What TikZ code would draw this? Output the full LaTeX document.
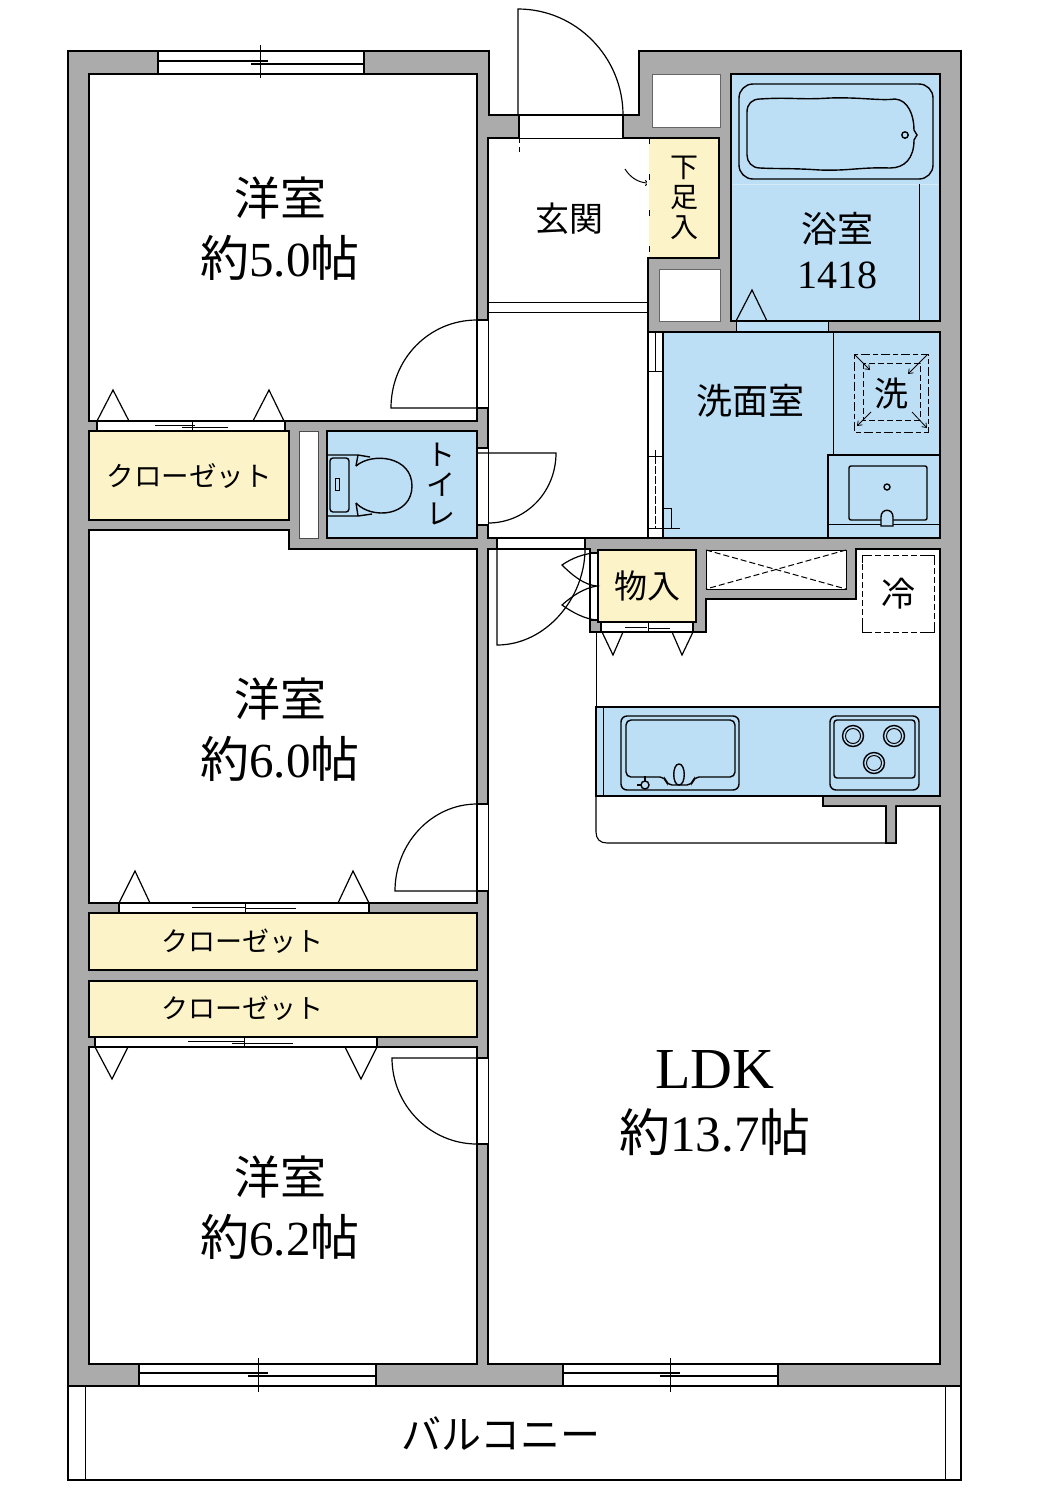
\documentclass[tikz,border=0pt]{standalone}
\usepackage{fontspec}
\setmainfont{Liberation Serif}
\newfontfamily\cjk{Noto Sans CJK JP}
\definecolor{wallgray}{HTML}{ABABAB}
\definecolor{wetblue}{HTML}{BDDFF6}
\definecolor{storeyellow}{HTML}{FDF3C8}
\tikzset{
  wall/.style={fill=wallgray,draw=black,line width=1.5pt},
  whiteroom/.style={fill=white,draw=black,line width=1.5pt},
  blueroom/.style={fill=wetblue,draw=black,line width=1.5pt},
  yellowroom/.style={fill=storeyellow,draw=black,line width=1.5pt},
  opening/.style={fill=white,draw=black,line width=1.2pt},
  thin line/.style={draw=black,line width=1pt},
  fixture/.style={draw=black,line width=1.4pt},
  dashline/.style={draw=black,line width=1pt,dash pattern=on 6pt off 3pt},
  doorleaf/.style={draw=black,line width=1.2pt},
  sz/.style={font=\fontsize{#1}{#1}\selectfont\cjk,inner sep=0pt},
  lat/.style={font=\fontsize{#1}{#1}\selectfont,inner sep=0pt},
  smallarrow/.style={draw=black,line width=0.8pt,-{Straight Barb[length=4pt,width=6pt]}},
}
\usetikzlibrary{arrows.meta}
\begin{document}
\begin{tikzpicture}[x=1pt,y=-1pt]
\useasboundingbox (0,0) rectangle (1054,1492);
% outer walls
\path[wall] (68,51) -- (489,51) -- (489,115) -- (639,115) -- (639,51) -- (961,51) -- (961,1386) -- (68,1386) -- cycle;
% balcony
\draw[line width=1.5pt] (68,1386) -- (68,1480) -- (961,1480) -- (961,1386);
\draw[thin line] (85,1386) -- (85,1480) (945,1386) -- (945,1480);
% bedrooms
\path[whiteroom] (89,74) rectangle (477,421);
\path[whiteroom] (89,530) -- (289,530) -- (289,549) -- (477,549) -- (477,903) -- (89,903) -- cycle;
\path[whiteroom] (89,1047) rectangle (477,1364);
% closets
\path[yellowroom] (89,431) rectangle (289,520);
\path[yellowroom] (89,913) rectangle (477,970);
\path[yellowroom] (89,981) rectangle (477,1037);
% closet openings
\path[opening] (97,421) rectangle (285,431);
\path[opening] (119,903) rectangle (369,913);
\path[opening] (95,1037) rectangle (377,1047);
\foreach \a/\b/\c in {97/113/129,253/269/284} \draw[doorleaf] (\a,421) -- (\b,390) -- (\c,421);
\foreach \a/\b/\c in {119/135/150,338/353/369} \draw[doorleaf] (\a,903) -- (\b,871) -- (\c,903);
\foreach \a/\b/\c in {95/112/128,345/361/377} \draw[doorleaf] (\a,1047) -- (\b,1079) -- (\c,1047);
\draw[thin line] (155,425) -- (195,425) (182,427) -- (228,427) (192,421) -- (192,431);
\draw[thin line] (192,907) -- (245,907) (245,908) -- (296,908) (245,903) -- (245,913);
\draw[thin line] (188,1041) -- (245,1041) (232,1043) -- (293,1043) (244,1037) -- (244,1047);
% toilet, shaft
\path[whiteroom,draw=black!70,line width=1pt] (299,431) rectangle (318,538);
\path[blueroom] (327,431) rectangle (477,538);
\draw[fixture,rounded corners=3pt] (330,458) rectangle (349,512);
\draw[fixture] (327,455) -- (358,455) -- (370,457) (327,516) -- (358,516) -- (372,514);
\draw[thin line] (335,478) rectangle (339,490);
\draw[fixture] (356,466) -- (358,455) (356,503) -- (358,516);
\draw[fixture] (356,466) .. controls (372,452) and (412,456) .. (412,486) .. controls (412,516) and (372,520) .. (356,503);
% corridor and entrance
\path[whiteroom] (488,138) rectangle (648,538);
\draw[thin line] (488,302) -- (648,302) (488,312) -- (648,312);
\path[opening,draw=none] (519,115) rectangle (622,138);
\draw[line width=1.5pt] (519,115) -- (622,115);
\draw[line width=2pt] (519,115) -- (519,138) (623,115) -- (623,138);
\draw[doorleaf] (518,115) -- (518,9) .. controls (576,9) and (623,57) .. (623,115);
\draw[line width=0.8pt,dash pattern=on 5pt off 4pt] (519,138) -- (519,154);
\draw[thin line,-{Straight Barb[length=4pt,width=5pt]}] (625,169) .. controls (630,177) and (638,183) .. (650,183);
% shoe closet and shafts
\path[fill=storeyellow] (649,138) rectangle (719,258);
\draw[line width=1.5pt] (648,138) -- (719,138) -- (719,258) -- (648,258);
\path[fill=white] (647.2,139) rectangle (648.8,257);
\draw[line width=0.8pt,dash pattern=on 6pt off 30pt] (649,138) -- (649,258);
\path[whiteroom,draw=black!60,line width=1pt] (652,74) rectangle (720,127);
\path[whiteroom,draw=black!60,line width=1pt] (659,269) rectangle (720,321);
% bath
\path[blueroom] (731,74) rectangle (940,321);
\draw[draw=wetblue!65!white,line width=0.8pt] (732,184) -- (939,184);
\draw[thin line] (919,184) -- (919,321);
\draw[fixture,rounded corners=14pt] (739,84) rectangle (933,179);
\draw[fixture] (760,99) .. controls (790,97) and (800,100) .. (830,98) .. controls (860,97) and (880,101) .. (895,99) .. controls (908,100) and (914,115) .. (914,130) -- (917,135) -- (914,140) .. controls (914,158) and (905,168) .. (890,168) .. controls (860,167) and (850,171) .. (820,170) .. controls (790,168) and (780,169) .. (760,168) .. controls (752,168) and (747,162) .. (747,155) -- (747,112) .. controls (747,104) and (752,99) .. (760,99) -- cycle;
\draw[fixture] (905,135) circle (3.2);
\path[fill=wetblue,draw=black,line width=1pt] (736,321) rectangle (828,332);
\draw[doorleaf] (736,321) -- (752,290) -- (767,321);
% washroom
\path[opening] (648,332) rectangle (663,538);
\draw[thin line] (655,332) -- (655,371) (648,371) -- (663,371) (648,456) -- (663,456) (655,450) -- (655,456);
\draw[line width=0.8pt,dash pattern=on 8pt off 2pt] (655,456) -- (655,528);
\draw[thin line] (648,528) -- (663,528);
\path[blueroom] (663,332) rectangle (940,538);
\draw[thin line] (833,332) -- (833,455);
\draw[thin line] (664,508) -- (671,508) -- (671,528) -- (664,528) (671,528) -- (680,528);
\draw[fixture] (828,538) -- (828,455) -- (940,455);
\draw[thin line] (828,524) -- (940,524);
\draw[fixture,rounded corners=2pt] (849,466) rectangle (927,520);
\draw[fixture] (887,487) circle (3);
\draw[fixture,fill=wetblue] (881,526) -- (881,517) .. controls (881,508) and (893,508) .. (893,517) -- (893,526) -- cycle;
\draw[line width=0.9pt,dash pattern=on 5pt off 3pt on 9pt off 3pt] (854,354) rectangle (928,432);
\draw[dashline] (863,363) rectangle (920,420);
\draw[smallarrow] (855,355) -- (870,370);
\draw[smallarrow] (927,355) -- (908,374);
\draw[smallarrow] (871,412) -- (857,426);
\draw[smallarrow] (912,412) -- (927,428);
% LDK
\path[whiteroom] (488,549) -- (590,549) -- (590,632) -- (706,632) -- (706,599) -- (856,599) -- (856,549) -- (940,549) -- (940,796) -- (823,796) -- (823,806) -- (886,806) -- (886,843) -- (896,843) -- (896,806) -- (940,806) -- (940,1364) -- (488,1364) -- cycle;
\path[opening] (497,538) rectangle (585,549);
\draw[doorleaf] (497,549) -- (497,645) .. controls (546,645) and (585,598) .. (585,549);
% storage
\path[opening] (590,553) rectangle (598,620);
\path[yellowroom] (598,550) rectangle (696,622);
\path[opening] (601,622) rectangle (693,632);
\draw[thin line] (625,627) -- (647,627) (648,628) -- (670,628) (648,622) -- (648,632);
\draw[doorleaf] (597,553) .. controls (585,553) and (572,558) .. (562,565) .. controls (572,575) and (584,585) .. (597,586) .. controls (584,588) and (572,596) .. (562,605) .. controls (572,612) and (584,619) .. (597,620);
\draw[doorleaf] (602,632) -- (613,655) -- (623,632) (672,632) -- (682,655) -- (693,632);
% void with cross
\path[whiteroom,line width=1pt] (706,550) rectangle (846,589);
\draw[dashline] (706,550) -- (846,589) (846,550) -- (706,589);
% fridge
\draw[dashline] (862,555) rectangle (934,632);
\draw[line width=1pt] (862,563) -- (862,555) -- (870,555) (934,563) -- (934,555) -- (926,555) (862,624) -- (862,632) -- (870,632) (934,624) -- (934,632) -- (926,632);
% kitchen
\draw[thin line] (596,632) -- (596,707);
\draw[line width=1.1pt] (596,796) -- (596,832) .. controls (596,839) and (600,843) .. (607,843) -- (886,843);
\path[fill=wetblue,draw=black,line width=1.1pt] (596,707) rectangle (940,796);
\draw[thin line] (603,707) -- (603,796);
\draw[fixture,rounded corners=6pt] (621,716) rectangle (739,790);
\draw[fixture,rounded corners=5pt] (626,720) -- (735,720) -- (735,777) -- (694,777) -- (692,785) -- (667,785) -- (665,777) -- (626,777) -- cycle;
\draw[fixture] (679,764) .. controls (672,764) and (672,785) .. (679,785) .. controls (686,785) and (686,764) .. (679,764) -- cycle;
\draw[fixture] (645,785) circle (4);
\draw[fixture] (637,785) -- (641,785) (645,776) -- (645,781);
\draw[fixture,rounded corners=6pt] (830,716) rectangle (919,790);
\draw[fixture,rounded corners=3pt] (834,720) rectangle (915,778);
\foreach \cx/\cy in {853/736,894/736,874/763} {\draw[fixture] (\cx,\cy) circle (10.5); \draw[thin line] (\cx,\cy) circle (7.5);}
\path[wall] (823,796) rectangle (940,806);
\path[wall] (886,806) rectangle (896,843);
\path[fill=wallgray] (824,797.5) rectangle (939,805) (887,800) rectangle (895,842);
\path[fill=wallgray] (930,797) rectangle (942,805);
\draw[line width=1.5pt] (940,806) -- (940,1364);
% bedroom doors
\foreach \ya/\yb in {320/408,448/525,804/891,1058/1144} \path[fill=white] (478,\ya) rectangle (488,\yb);
\draw[thin line] (477,320) -- (477,408) (477,448) -- (477,525) (477,804) -- (477,891) (477,1058) -- (477,1144);
\draw[thin line] (488,320) -- (488,408) (488,448) -- (488,525) (488,804) -- (488,891) (488,1058) -- (488,1144);
\draw[line width=2pt] (477,320) -- (488,320) (477,408) -- (488,408) (477,448) -- (488,448) (477,525) -- (488,525) (477,804) -- (488,804) (477,891) -- (488,891) (477,1058) -- (488,1058) (477,1144) -- (488,1144);
\draw[doorleaf] (477,320) .. controls (429,320) and (391,359) .. (391,408) -- (477,408);
\draw[doorleaf] (477,453) -- (556,453) .. controls (556,492) and (526,523) .. (488,523);
\draw[doorleaf] (477,804) .. controls (432,804) and (395,843) .. (395,891) -- (477,891);
\draw[doorleaf] (477,1058) -- (392,1058) .. controls (392,1105) and (430,1144) .. (477,1144);
% windows
\path[opening] (158,51) rectangle (364,74);
\draw[line width=1.2pt] (158,61) -- (268,61) (251,64) -- (364,64);
\draw[thin line] (260,45) -- (260,78);
\path[opening] (139,1364) rectangle (376,1386);
\draw[line width=1.2pt] (139,1373) -- (268,1373) (248,1376) -- (376,1376);
\draw[thin line] (258,1358) -- (258,1392);
\path[opening] (563,1364) rectangle (778,1386);
\draw[line width=1.2pt] (563,1373) -- (680,1373) (660,1376) -- (778,1376);
\draw[thin line] (670,1358) -- (670,1392);
% labels
\node[sz=46] (r1a) at (280,198) {洋室};
\node[lat=49] (r1b) at (280,258) {{\cjk 約}5.0{\cjk 帖}};
\node[sz=46] (r2a) at (280,699) {洋室};
\node[lat=49] (r2b) at (280,759) {{\cjk 約}6.0{\cjk 帖}};
\node[sz=46] (r3a) at (280,1177) {洋室};
\node[lat=49] (r3b) at (280,1237) {{\cjk 約}6.2{\cjk 帖}};
\node[lat=58] (ldka) at (715,1070) {LDK};
\node[lat=51] (ldkb) at (715,1132) {{\cjk 約}13.7{\cjk 帖}};
\node[sz=27.5] (cl1) at (189,476) {クローゼット};
\node[sz=27] (cl2) at (242,941) {クローゼット};
\node[sz=27] (cl3) at (242,1008) {クローゼット};
\node[sz=34] (gen) at (569,219) {玄関};
\node[sz=36] (bath) at (837,229) {浴室};
\node[lat=40] (bathn) at (837,275) {1418};
\node[sz=36] (wash) at (750,401) {洗面室};
\node[sz=34] (wm) at (891,394) {洗};
\node[sz=33] (mono) at (647,586) {物入};
\node[sz=34] (rei) at (898,594) {冷};
\node[sz=28] (sh1) at (684,168) {下};
\node[sz=28] (sh2) at (684,198) {足};
\node[sz=28] (sh3) at (684,228) {入};
\node[sz=29] (t1) at (441,455) {ト};
\node[sz=29] (t2) at (441,485) {イ};
\node[sz=29] (t3) at (441,514) {レ};
\node[sz=40] (bal) at (501,1434) {バルコニー};
\end{tikzpicture}
\end{document}
